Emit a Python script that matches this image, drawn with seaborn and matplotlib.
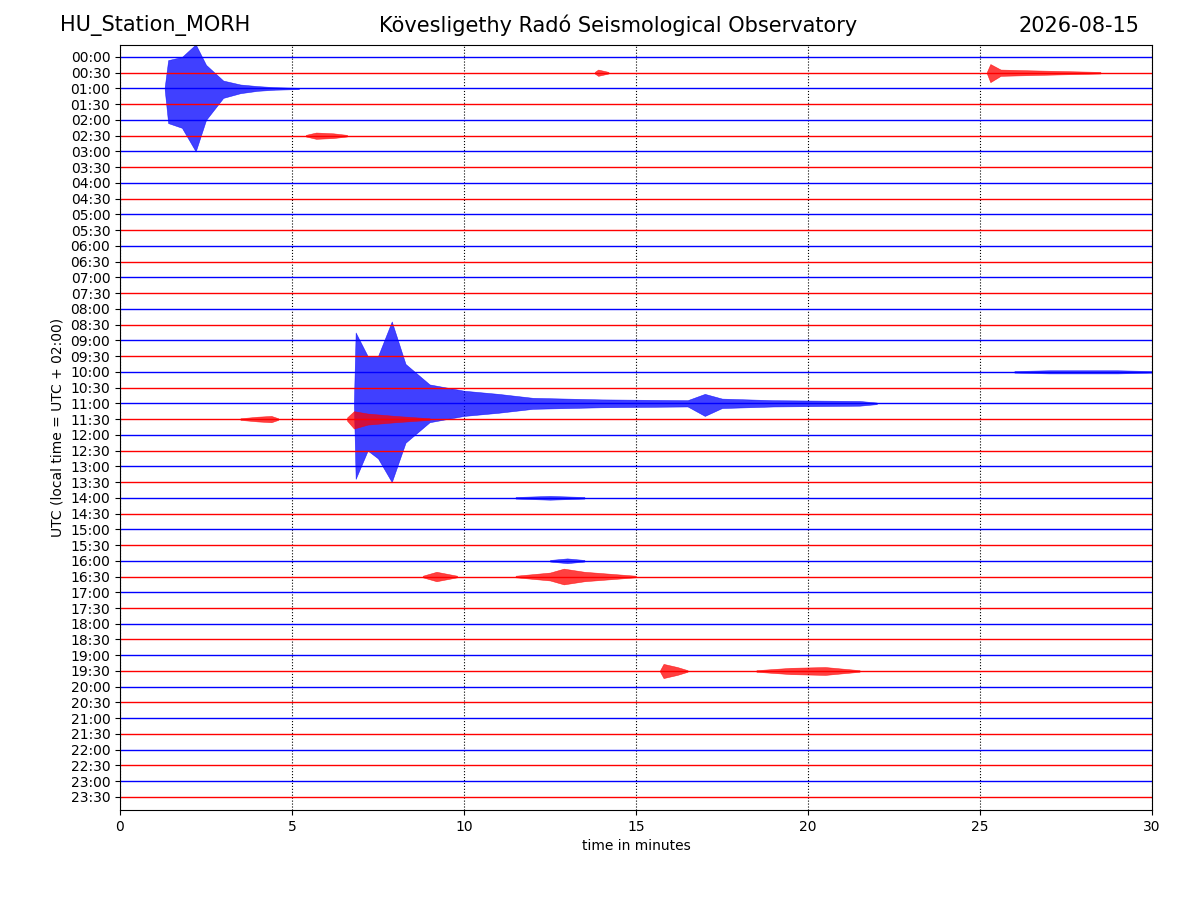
import numpy as np
import pandas as pd
import seaborn as sns
from matplotlib import pyplot as plt

# Trace rows: one line per half hour, UTC
row_labels = [f'{h:02d}:{m:02d}' for h in range(24) for m in (0, 30)]
trace_colors = ['blue' if i % 2 == 0 else 'red' for i in range(len(row_labels))]

# Events: row, times (min), envelope above / below (row units)
ev_rows = [2, 1, 1, 5, 20, 22, 23, 23, 28, 32, 33, 33, 39, 39]
ev_times = [
    [1.3, 1.4, 1.8, 2.2, 2.5, 3.0, 3.5, 4.0, 4.5, 5.2],
    [13.8, 13.9, 14.0, 14.2],
    [25.2, 25.3, 25.6, 26.5, 27.5, 28.5],
    [5.4, 5.7, 6.2, 6.6],
    [26.0, 27.0, 29.0, 30.0],
    [6.8, 6.85, 7.2, 7.5, 7.9, 8.3, 9.0, 10.0, 11.0, 12.0, 14.0, 16.5, 17.0, 17.5, 19.0, 21.5, 22.0],
    [3.5, 4.0, 4.4, 4.6],
    [6.6, 6.8, 7.2, 8.0, 9.0],
    [11.5, 12.5, 13.5],
    [12.5, 13.0, 13.5],
    [8.8, 9.2, 9.8],
    [11.5, 12.5, 12.9, 13.5, 15.0],
    [15.7, 15.8, 16.2, 16.5],
    [18.5, 19.5, 20.5, 21.5],
]
ev_up = [
    [0.1, 1.8, 2.0, 2.8, 1.5, 0.5, 0.25, 0.15, 0.08, 0.04],
    [0.05, 0.2, 0.15, 0.05],
    [0.05, 0.55, 0.2, 0.15, 0.1, 0.05],
    [0.05, 0.2, 0.15, 0.05],
    [0.05, 0.1, 0.1, 0.05],
    [0.1, 4.5, 3.0, 3.0, 5.2, 2.5, 1.2, 0.8, 0.6, 0.35, 0.25, 0.2, 0.6, 0.3, 0.2, 0.15, 0.05],
    [0.05, 0.15, 0.2, 0.05],
    [0.1, 0.5, 0.35, 0.2, 0.05],
    [0.05, 0.12, 0.05],
    [0.05, 0.15, 0.05],
    [0.05, 0.3, 0.05],
    [0.05, 0.25, 0.5, 0.3, 0.05],
    [0.05, 0.45, 0.25, 0.05],
    [0.05, 0.2, 0.25, 0.05],
]
ev_down = [
    [0.1, 2.2, 2.5, 4.0, 2.0, 0.6, 0.3, 0.15, 0.08, 0.04],
    [0.05, 0.2, 0.15, 0.05],
    [0.05, 0.6, 0.2, 0.15, 0.1, 0.05],
    [0.05, 0.2, 0.15, 0.05],
    [0.05, 0.1, 0.1, 0.05],
    [0.1, 4.8, 3.0, 3.5, 5.0, 2.5, 1.2, 0.8, 0.6, 0.35, 0.25, 0.2, 0.8, 0.3, 0.2, 0.15, 0.05],
    [0.05, 0.15, 0.2, 0.05],
    [0.1, 0.6, 0.35, 0.2, 0.05],
    [0.05, 0.12, 0.05],
    [0.05, 0.15, 0.05],
    [0.05, 0.3, 0.05],
    [0.05, 0.25, 0.5, 0.3, 0.05],
    [0.05, 0.45, 0.25, 0.05],
    [0.05, 0.2, 0.25, 0.05],
]

sns.set_style('ticks', {'text.color': 'black', 'axes.labelcolor': 'black',
                        'xtick.color': 'black', 'ytick.color': 'black',
                        'axes.edgecolor': 'black'})
fig = plt.figure(figsize=(12, 9), dpi=100)
ax = fig.add_axes([0.1, 0.1, 0.86, 0.85])

# Baselines
base = pd.DataFrame({
    'minute': [0.0, 30.0] * len(row_labels),
    'row': np.repeat(np.arange(len(row_labels)), 2),
})
sns.lineplot(base, x='minute', y='row', units='row', hue='row', estimator=None,
             palette=trace_colors, legend=False, linewidth=1.0, ax=ax)

# Event envelopes
for r, t, up, dn in zip(ev_rows, ev_times, ev_up, ev_down):
    t = np.array(t)
    ax.fill_between(t, r - np.array(up), r + np.array(dn),
                    color=trace_colors[r], linewidth=0.4, alpha=0.75)

ax.set_xlim(0, 30)
ax.set_ylim(47.83, -0.76)
ax.set_yticks(range(len(row_labels)))
ax.set_yticklabels(row_labels)
ax.set_xticks(range(0, 31, 5))
ax.grid(axis='x', color='black', linestyle=':', linewidth=0.8)
ax.set_xlabel('time in minutes')
ax.set_ylabel('UTC (local time = UTC + 02:00)')
ax.tick_params(direction='out')

fig.text(0.05, 0.965, 'HU_Station_MORH', fontsize=15, ha='left')
fig.text(0.515, 0.965, 'Kövesligethy Radó Seismological Observatory', fontsize=15, ha='center')
fig.text(0.95, 0.965, '2026-08-15', fontsize=15, ha='right')

fig.savefig('out.png', dpi=100)
